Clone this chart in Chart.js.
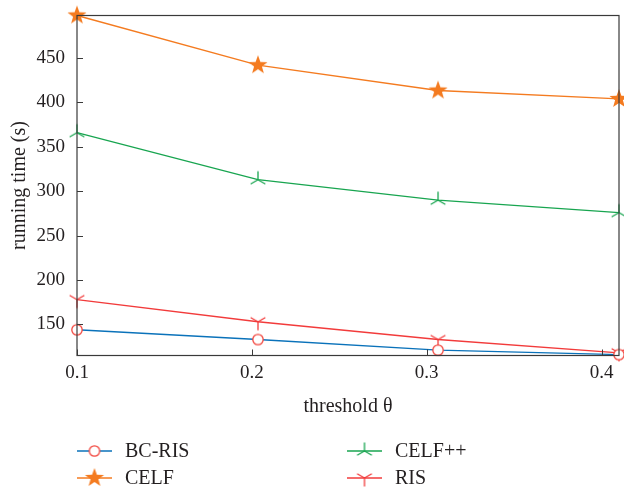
<!DOCTYPE html>
<html>
<head>
<meta charset="utf-8">
<script src="https://cdn.jsdelivr.net/npm/chart.js@4.4.1/dist/chart.umd.min.js"></script>
<style>
  html, body { margin: 0; padding: 0; background: #fff; }
  #wrap { width: 624px; height: 487px; }
</style>
</head>
<body>
<div id="wrap"><canvas id="chart" width="624" height="487"></canvas></div>
<script>
// values
const thresholds = [0.1, 0.2035, 0.3065, 0.41]
const xTickValues = [0.1, 0.2, 0.3, 0.4]
const yTickValues = [150, 200, 250, 300, 350, 400, 450]

const bcRis = [144, 133, 121, 116]
const celf = [498, 442, 413.5, 404]
const celfPP = [366, 313, 290, 276]
const ris = [178, 153, 133, 118]

const FONT = '"Liberation Serif", "DejaVu Serif", serif'
const TEXT = '#231f20'
const AXIS = '#3a3a3a'

// marker images (chart.js has no filled star / tri markers)
function makeMarker(type, color, lw) {
  const s = 24, c = s / 2
  const cv = document.createElement('canvas')
  cv.width = s; cv.height = s
  const g = cv.getContext('2d')
  g.strokeStyle = color
  g.fillStyle = color
  g.lineWidth = lw || 1.3
  if (type === 'circle') {
    g.beginPath()
    g.arc(c, c, 5.2, 0, Math.PI * 2)
    g.fillStyle = '#fff'
    g.fill()
    g.stroke()
  } else if (type === 'star') {
    g.beginPath()
    for (let i = 0; i < 10; i++) {
      const r = i % 2 === 0 ? 10 : 4.1
      const a = -Math.PI / 2 + i * Math.PI / 5
      const px = c + r * Math.cos(a), py = c + r * Math.sin(a)
      i === 0 ? g.moveTo(px, py) : g.lineTo(px, py)
    }
    g.closePath()
    g.fill()
  } else {
    // tri: 'up' = arm up + two arms down, 'down' = arm down + two arms up
    const base = type === 'triUp' ? -90 : 90
    g.beginPath()
    for (const d of [0, 120, 240]) {
      const a = (base + d) * Math.PI / 180
      g.moveTo(c, c)
      g.lineTo(c + 8.5 * Math.cos(a), c + 8.5 * Math.sin(a))
    }
    g.stroke()
  }
  return cv
}

const series = [
  { label: 'BC-RIS', data: bcRis, color: '#0a72ba', marker: makeMarker('circle', '#f2453d', 1.3) },
  { label: 'CELF', data: celf, color: '#f47b20', marker: makeMarker('star', '#f47b20') },
  { label: 'CELF++', data: celfPP, color: '#18a550', marker: makeMarker('triUp', '#18a550', 1.3) },
  { label: 'RIS', data: ris, color: '#f23b3b', marker: makeMarker('triDown', '#f23b3b', 1.3) },
]

// box around plot + inward ticks
const frame = {
  id: 'frame',
  afterDraw(chart) {
    const { ctx, chartArea: a, scales } = chart
    ctx.save()
    ctx.strokeStyle = AXIS
    ctx.lineWidth = 1.2
    ctx.strokeRect(a.left, a.top, a.right - a.left, a.bottom - a.top)
    ctx.lineWidth = 1
    ctx.beginPath()
    scales.x.ticks.forEach(t => {
      const px = Math.round(scales.x.getPixelForValue(t.value)) + 0.5
      ctx.moveTo(px, a.bottom); ctx.lineTo(px, a.bottom - 6)
    })
    scales.y.ticks.forEach(t => {
      const py = Math.round(scales.y.getPixelForValue(t.value)) + 0.5
      ctx.moveTo(a.left, py); ctx.lineTo(a.left + 6, py)
    })
    ctx.stroke()
    ctx.restore()
  }
}

// two-column legend below the axis title
const legendBox = {
  id: 'legendBox',
  afterDraw(chart) {
    const { ctx } = chart
    const cols = [77, 347], rows = [451, 478]
    const slots = [[0, 0], [0, 1], [1, 0], [1, 1]]
    ctx.save()
    ctx.font = '20px ' + FONT
    ctx.textBaseline = 'middle'
    ctx.fillStyle = TEXT
    series.forEach((s, i) => {
      const x = cols[slots[i][0]], y = rows[slots[i][1]]
      ctx.strokeStyle = s.color
      ctx.lineWidth = 1.5
      ctx.beginPath()
      ctx.moveTo(x, y); ctx.lineTo(x + 35, y)
      ctx.stroke()
      ctx.drawImage(s.marker, x + 17.5 - s.marker.width / 2, y - s.marker.height / 2)
      ctx.fillText(s.label, x + 48, y + 1)
    })
    ctx.restore()
  }
}

new Chart(document.getElementById('chart').getContext('2d'), {
  type: 'line',
  data: {
    datasets: series.map(s => ({
      label: s.label,
      data: s.data.map((v, i) => ({ x: thresholds[i], y: v })),
      borderColor: s.color,
      borderWidth: 1.3,
      pointStyle: s.marker,
      pointRadius: 9,
      pointHoverRadius: 9,
      tension: 0,
      clip: false,
    }))
  },
  options: {
    responsive: false,
    animation: false,
    events: [],
    layout: { autoPadding: false, padding: { top: 15.5, right: 5, left: 0, bottom: 68 } },
    plugins: {
      legend: { display: false },
      tooltip: { enabled: false },
    },
    scales: {
      x: {
        type: 'linear',
        min: 0.1,
        max: 0.41,
        afterBuildTicks: scale => { scale.ticks = xTickValues.map(v => ({ value: v })) },
        afterFit: scale => {
          scale.height = 63.5
          scale.paddingLeft = 0
          scale.paddingRight = 0
        },
        grid: { display: false, drawTicks: false },
        border: { display: false },
        ticks: {
          padding: 6,
          maxRotation: 0,
          color: TEXT,
          font: { family: FONT, size: 19 },
          callback: v => v.toFixed(1),
        },
        title: {
          display: true,
          text: 'threshold θ',
          color: TEXT,
          font: { family: FONT, size: 20 },
          padding: { top: 0, bottom: 0 },
        },
      },
      y: {
        min: 115,
        max: 498,
        afterBuildTicks: scale => { scale.ticks = yTickValues.map(v => ({ value: v })) },
        afterFit: scale => {
          scale.width = 77
          scale.paddingTop = 0
          scale.paddingBottom = 0
        },
        grid: { display: false, drawTicks: false },
        border: { display: false },
        ticks: {
          padding: 12,
          color: TEXT,
          font: { family: FONT, size: 19 },
        },
        title: {
          display: true,
          text: 'running time (s)',
          color: TEXT,
          font: { family: FONT, size: 20 },
          padding: { top: 8, bottom: 0 },
        },
      },
    },
  },
  plugins: [frame, legendBox],
})
</script>
</body>
</html>
